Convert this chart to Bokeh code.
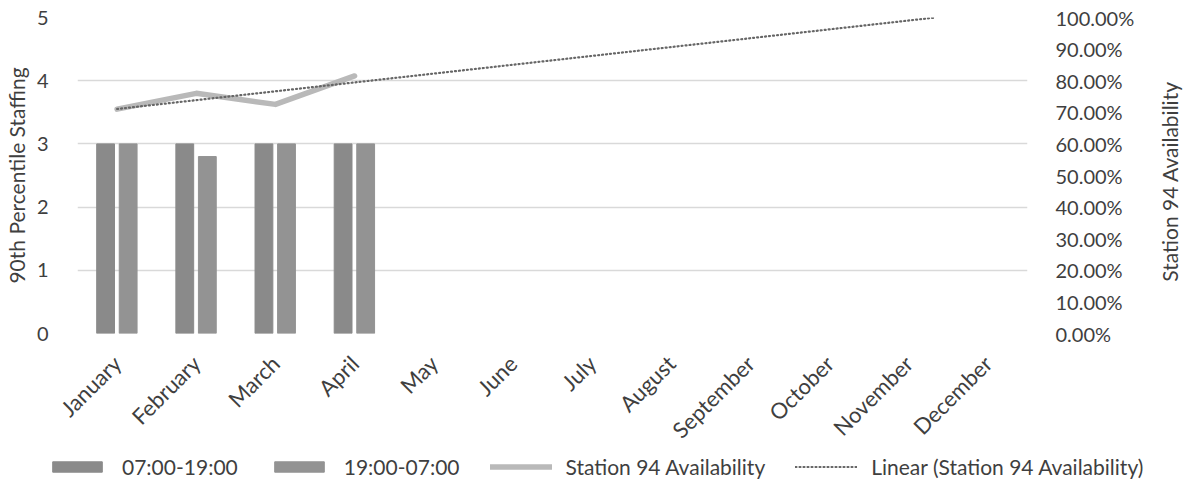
import math
import numpy as np
from bokeh.plotting import figure
from bokeh.models import (Range1d, LinearAxis, SingleIntervalTicker, FixedTicker,
                          NumeralTickFormatter, Legend, LegendItem, Title)
from bokeh.embed import file_html
from bokeh.resources import INLINE

# ---- data ----
months = ["January", "February", "March", "April", "May", "June", "July",
          "August", "September", "October", "November", "December"]
day_shift = [3, 3, 3, 3]            # 07:00-19:00
night_shift = [3, 2.8, 3, 3]        # 19:00-07:00
availability = [0.71, 0.76, 0.725, 0.815]  # Station 94 Availability
series_names = ["07:00-19:00", "19:00-07:00", "Station 94 Availability",
                "Linear (Station 94 Availability)"]
left_title = "90th Percentile Staffing"
right_title = "Station 94 Availability"

FONT = "Lato"
TXT = "#3f3f3f"
C_DAY, C_NIGHT, C_LINE, C_TREND = "#8a8a8a", "#939393", "#b9b9b9", "#666666"

x_all = np.arange(1, len(months) + 1)
x_data = np.arange(1, len(day_shift) + 1)

# linear trendline (least squares of the data), drawn until it reaches 100%
m, b = np.polyfit(x_data, availability, 1)
x_end = min(float(len(months)), (1.0 - b) / m)
xt = np.array([x_data[0], x_end])
yt = m * xt + b


def draw_series(fig, pct_range):
    kw = {"y_range_name": pct_range} if pct_range else {}
    r1 = fig.vbar(x=x_data - 0.145, top=day_shift, width=0.225, color=C_DAY)
    r2 = fig.vbar(x=x_data + 0.14, top=night_shift, width=0.225, color=C_NIGHT)
    r3 = fig.line(x=x_data, y=availability, line_color=C_LINE, line_width=5.5,
                  line_cap="round", line_join="round", **kw)
    r4 = fig.line(x=xt, y=yt, line_color=C_TREND, line_width=2.2, line_dash="1 3",
                  line_cap="round", **kw)
    return [r1, r2, r3, r4]


p = figure(width=1169, height=463, output_backend="svg", toolbar_location=None,
           x_range=Range1d(0.5, len(months) + 0.5), y_range=Range1d(0, 5),
           min_border_left=69, min_border_right=142, min_border_top=17,
           min_border_bottom=130)
p.outline_line_color = None
p.extra_y_ranges = {"pct": Range1d(0, 1)}
draw_series(p, "pct")

# x axis
p.xaxis.ticker = FixedTicker(ticks=list(x_all))
p.xaxis.major_label_overrides = {int(i): mth for i, mth in zip(x_all, months)}
p.xaxis.major_label_orientation = math.pi / 4
p.xaxis.axis_line_color = None
p.xaxis.major_tick_line_color = None
p.xaxis.minor_tick_line_color = None
p.xaxis.major_label_text_font = FONT
p.xaxis.major_label_text_font_size = "22px"
p.xaxis.major_label_text_color = TXT
p.xaxis.major_label_standoff = 20

# left axis
p.yaxis.ticker = SingleIntervalTicker(interval=1, num_minor_ticks=0)
la = p.yaxis[0]
la.axis_label = left_title
la.axis_line_color = None
la.major_tick_line_color = None
la.minor_tick_line_color = None
la.major_label_text_font = FONT
la.major_label_text_font_size = "20px"
la.major_label_text_color = TXT
la.major_label_standoff = 23
la.axis_label_text_font = FONT
la.axis_label_text_font_size = "21px"
la.axis_label_text_font_style = "normal"
la.axis_label_text_color = TXT
la.axis_label_standoff = 5

# right axis (ticks only; its title is a separate bottom-to-top title below)
ra = LinearAxis(y_range_name="pct", ticker=SingleIntervalTicker(interval=0.1, num_minor_ticks=0),
                formatter=NumeralTickFormatter(format="0.00%"))
ra.axis_line_color = None
ra.major_tick_line_color = None
ra.minor_tick_line_color = None
ra.major_label_text_font = FONT
ra.major_label_text_font_size = "20px"
ra.major_label_text_color = TXT
ra.major_label_standoff = 22
p.add_layout(ra, "right")

p.xgrid.grid_line_color = None
p.ygrid.grid_line_color = "#d9d9d9"
p.ygrid.grid_line_width = 1.5

# ---- legend strip: same series drawn off-range, only their legend samples show ----
lg = figure(width=1169, height=43, output_backend="svg", toolbar_location=None,
            x_axis_type=None, y_axis_type=None, x_range=Range1d(-2, -1),
            y_range=Range1d(-2, -1), min_border=0,
            styles={"margin-top": "-16px"})
lg.outline_line_color = None
lg.background_fill_color = None
lg.border_fill_color = None
lg.grid.grid_line_color = None
rs = draw_series(lg, None)

legend = Legend(items=[LegendItem(label=n, renderers=[r]) for n, r in zip(series_names, rs)],
                orientation="horizontal", location=(46, 11))
legend.border_line_color = None
legend.background_fill_alpha = 0
legend.label_text_font = FONT
legend.label_text_font_size = "21px"
legend.label_text_color = TXT
legend.glyph_width = 62
legend.glyph_height = 13
legend.spacing = 30
legend.label_standoff = 14
legend.padding = 0
legend.margin = 0
lg.add_layout(legend, "center")

# ---- right-hand axis title, reading bottom-to-top like the reference ----
rt = figure(width=31, height=316, output_backend="svg", toolbar_location=None,
            x_axis_type=None, y_axis_type=None, min_border=0,
            styles={"position": "absolute", "left": "1154px", "top": "23px"})
rt.outline_line_color = None
rt.background_fill_color = None
rt.border_fill_color = None
rt.add_layout(Title(text=right_title, align="center", text_font=FONT,
                    text_font_size="21px", text_font_style="normal",
                    text_color=TXT, standoff=0), "left")

open("out.html", "w").write(file_html([p, lg, rt], INLINE))
